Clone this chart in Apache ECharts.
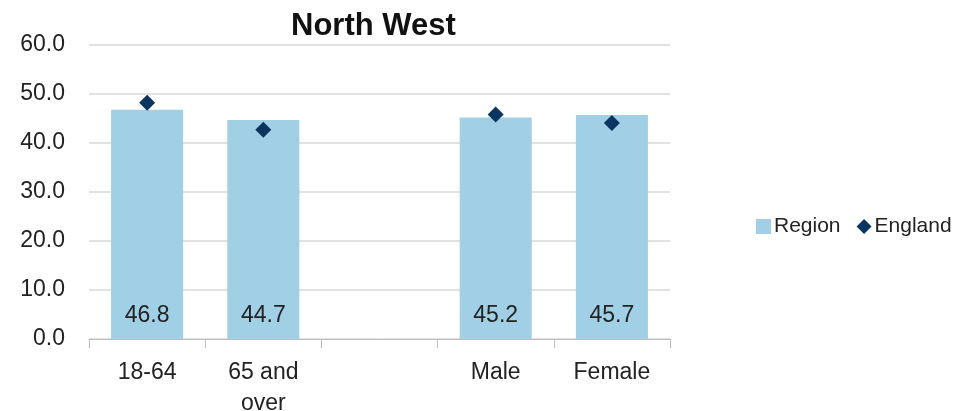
<!DOCTYPE html>
<html>
<head>
<meta charset="utf-8">
<script src="https://cdn.jsdelivr.net/npm/echarts@6/dist/echarts.min.js"></script>
<style>
  html, body { margin: 0; padding: 0; background: #fff; }
  #main { width: 969px; height: 411px; }
</style>
</head>
<body>
<div id="main"></div>
<script>
// categories and values
var categories = ['18-64', '65 and\nover', '', 'Male', 'Female'];
var regionValues = [46.8, 44.7, '-', 45.2, 45.7];
var englandValues = [48.2, 42.7, '-', 45.8, 44.1];

var font = 'Liberation Sans, Arial, sans-serif';
var myChart = echarts.init(document.getElementById('main'));

var option = {
  animation: false,
  title: {
    text: 'North West',
    left: 286,
    top: 6,
    textStyle: { fontFamily: font, fontSize: 31, fontWeight: 'bold', color: '#111' }
  },
  legend: {
    left: 751,
    top: 211,
    itemWidth: 15,
    itemHeight: 15,
    itemGap: 16,
    textStyle: { fontFamily: font, fontSize: 21, color: '#222', padding: [0, 0, 0, -2] },
    data: [
      { name: 'Region', icon: 'rect' },
      { name: 'England', icon: 'diamond' }
    ]
  },
  grid: { left: 89, right: 299, top: 45, bottom: 72, outerBoundsMode: 'none' },
  xAxis: {
    type: 'category',
    data: categories,
    axisLine: { lineStyle: { color: '#bfbfbf', width: 1 } },
    axisTick: { show: true, length: 9, lineStyle: { color: '#bfbfbf' } },
    axisLabel: { interval: 0, fontFamily: font, fontSize: 23, color: '#222', margin: 18, lineHeight: 31 }
  },
  yAxis: {
    type: 'value',
    min: 0,
    max: 60,
    interval: 10,
    axisLine: { show: false },
    axisTick: { show: false },
    splitLine: { lineStyle: { color: '#d9d9d9', width: 1.5 } },
    axisLabel: {
      fontFamily: font, fontSize: 23, color: '#222', margin: 24,
      formatter: function (v) { return v.toFixed(1); }
    }
  },
  series: [
    {
      name: 'Region',
      type: 'bar',
      data: regionValues,
      barCategoryGap: '38%',
      itemStyle: { color: '#a1cfe6' },
      label: {
        show: true,
        position: 'insideBottom',
        distance: 12,
        fontFamily: font,
        fontSize: 23,
        color: '#222',
        formatter: function (p) { return p.value.toFixed(1); }
      }
    },
    {
      name: 'England',
      type: 'scatter',
      data: englandValues,
      symbol: 'diamond',
      symbolSize: 16,
      itemStyle: { color: '#0b3560', opacity: 1 }
    }
  ]
};

myChart.setOption(option);
</script>
</body>
</html>
